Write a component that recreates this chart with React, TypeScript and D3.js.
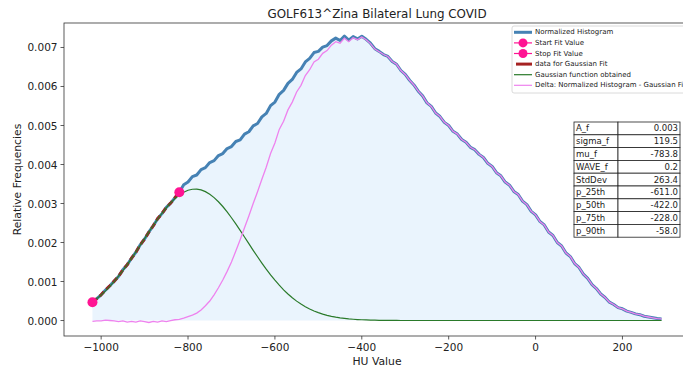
import React from "react";
import * as d3 from "d3";

// HU bins (10 HU wide)
const HU: number[] = d3.range(-1020, 291, 10);

// Normalized histogram (relative frequencies)
const HIST: number[] = [
  0.00047, 0.00056, 0.00066, 0.00078, 0.00089, 0.00101, 0.00113, 0.0013, 0.00143, 0.0016,
  0.00175, 0.00194, 0.00209, 0.00227, 0.00243, 0.00261, 0.00274, 0.0029, 0.00301, 0.00315,
  0.00329, 0.00348, 0.00355, 0.00369, 0.00373, 0.00387, 0.00392, 0.00405, 0.0041, 0.00423,
  0.00428, 0.00441, 0.00446, 0.00459, 0.00463, 0.00478, 0.00484, 0.00499, 0.00505, 0.00522,
  0.00531, 0.00551, 0.0056, 0.0058, 0.0059, 0.00608, 0.00618, 0.00636, 0.00645, 0.00663,
  0.00672, 0.00687, 0.0069, 0.00701, 0.00705, 0.00717, 0.00724, 0.00718, 0.00729, 0.00719,
  0.00728, 0.00722, 0.00729, 0.00721, 0.00711, 0.00697, 0.0069, 0.00682, 0.00677, 0.00664,
  0.00657, 0.00641, 0.00631, 0.00616, 0.00604, 0.00588, 0.00576, 0.00558, 0.00549, 0.00532,
  0.00523, 0.00508, 0.005, 0.00485, 0.00478, 0.00464, 0.00457, 0.00444, 0.00438, 0.00426,
  0.00418, 0.00403, 0.00395, 0.00379, 0.00371, 0.00355, 0.00347, 0.00331, 0.00323, 0.00306,
  0.00297, 0.0028, 0.00271, 0.00254, 0.00245, 0.00227, 0.00218, 0.002, 0.00191, 0.00173,
  0.00164, 0.00146, 0.00136, 0.00119, 0.00108, 0.00092, 0.00082, 0.00068, 0.00059, 0.00047,
  0.00041, 0.00033, 0.0003, 0.00024, 0.00021, 0.00017, 0.00015, 0.00011, 0.00009, 0.00007,
  0.00005, 0.00004,
];

// Gaussian function obtained
const GAUSS: number[] = [
  0.000478, 0.000562, 0.000656, 0.000761, 0.000875, 0.001001, 0.001136, 0.001281, 0.001434, 0.001594,
  0.00176, 0.00193, 0.0021, 0.002271, 0.002437, 0.002598, 0.00275, 0.002891, 0.003017, 0.003127,
  0.003219, 0.00329, 0.003339, 0.003365, 0.003368, 0.003348, 0.003304, 0.003238, 0.003151, 0.003045,
  0.002923, 0.002785, 0.002635, 0.002477, 0.002311, 0.002142, 0.00197, 0.0018, 0.001634, 0.001472,
  0.001317, 0.00117, 0.001033, 0.000905, 0.000787, 0.00068, 0.000583, 0.000497, 0.000421, 0.000353,
  0.000295, 0.000244, 0.000201, 0.000164, 0.000133, 0.000107, 0.000086, 0.000068, 0.000054, 0.000042,
  0.000033, 0.000025, 0.000019, 0.000015, 0.000011, 0.000008, 0.000006, 0.000005, 0.000003, 0.000003,
  0.000002, 0.000001, 0.000001, 0, 0, 0, 0, 0, 0, 0,
  0, 0, 0, 0, 0, 0, 0, 0, 0, 0,
  0, 0, 0, 0, 0, 0, 0, 0, 0, 0,
  0, 0, 0, 0, 0, 0, 0, 0, 0, 0,
  0, 0, 0, 0, 0, 0, 0, 0, 0, 0,
  0, 0, 0, 0, 0, 0, 0, 0, 0, 0,
  0, 0,
];

// Delta: Normalized Histogram - Gaussian Fit
const DELTA: number[] = [
  -0.00002, -0.00001, -0.00001, 0.00001, 0.0, -0.00001, -0.00003, -0.00001, -0.00004, -0.00002,
  -0.00004, -0.00001, -0.00003, -0.00005, -0.00002, -0.00004, -0.00001, -0.00003, 0.0, 0.00002,
  0.00003, 0.00006, 0.0001, 0.00014, 0.00019, 0.00027, 0.00038, 0.0005, 0.00066, 0.00084,
  0.00104, 0.00126, 0.0015, 0.00178, 0.00207, 0.00238, 0.00268, 0.003, 0.0033, 0.00362,
  0.00393, 0.00428, 0.00455, 0.0049, 0.00511, 0.0054, 0.0056, 0.00586, 0.00603, 0.00628,
  0.00643, 0.00663, 0.0067, 0.00685, 0.00692, 0.00706, 0.00715, 0.00711, 0.00724, 0.00715,
  0.00725, 0.0072, 0.00727, 0.0072, 0.0071, 0.00696, 0.00689, 0.00682, 0.00677, 0.00664,
  0.00657, 0.00641, 0.00631, 0.00616, 0.00604, 0.00588, 0.00576, 0.00558, 0.00549, 0.00532,
  0.00523, 0.00508, 0.005, 0.00485, 0.00478, 0.00464, 0.00457, 0.00444, 0.00438, 0.00426,
  0.00418, 0.00403, 0.00395, 0.00379, 0.00371, 0.00355, 0.00347, 0.00331, 0.00323, 0.00306,
  0.00297, 0.0028, 0.00271, 0.00254, 0.00245, 0.00227, 0.00218, 0.002, 0.00191, 0.00173,
  0.00164, 0.00146, 0.00136, 0.00119, 0.00108, 0.00092, 0.00082, 0.00068, 0.00059, 0.00047,
  0.00041, 0.00033, 0.0003, 0.00024, 0.00021, 0.00017, 0.00015, 0.00011, 0.00009, 0.00007,
  0.00005, 0.00004,
];

const START_HU = -1020;
const STOP_HU = -820;

const X_TICKS = [-1000, -800, -600, -400, -200, 0, 200];
const Y_TICKS = [0, 0.001, 0.002, 0.003, 0.004, 0.005, 0.006, 0.007];

const TABLE_LABELS = ["A_f", "sigma_f", "mu_f", "WAVE_f", "StdDev", "p_25th", "p_50th", "p_75th", "p_90th"];
const TABLE_VALUES = ["0.003", "119.5", "-783.8", "0.2", "263.4", "-611.0", "-422.0", "-228.0", "-58.0"];

const LEGEND_LABELS = [
  "Normalized Histogram",
  "Start Fit Value",
  "Stop Fit Value",
  "data for Gaussian Fit",
  "Gaussian function obtained",
  "Delta: Normalized Histogram - Gaussian Fit",
];

const TITLE = "GOLF613^Zina Bilateral Lung COVID";

const FONT = "DejaVu Sans, sans-serif";
const C_HIST = "#4682b4";
const C_PINK = "#ff1493";
const C_RED = "#a52222";
const C_GREEN = "#2a7a2a";
const C_VIOLET = "#ee82ee";
const C_FILL = "#eaf4fd";

export default function App() {
  const W = 683;
  const H = 367;
  const left = 64, right = 690, top = 23, bottom = 336;
  const x = d3.scaleLinear().domain([-1085.5, 355.5]).range([left, right]);
  const y = d3.scaleLinear().domain([-0.000397, 0.007628]).range([bottom, top]);

  const pts = HU.map((h, i) => ({ h, hist: HIST[i], g: GAUSS[i], d: DELTA[i] }));
  const line = (key: "hist" | "g" | "d") =>
    d3.line<any>().x((p) => x(p.h)).y((p) => y(p[key]));
  const area = d3.area<any>().x((p) => x(p.h)).y0(y(0)).y1((p) => y(p.hist));
  const fitPts = pts.filter((p) => p.h >= START_HU && p.h <= STOP_HU);
  const startP = pts.find((p) => p.h === START_HU)!;
  const stopP = pts.find((p) => p.h === STOP_HU)!;

  const fmtY = d3.format(".3f");
  const fmtX = (v: number) => (v < 0 ? "\u2212" + Math.abs(v) : String(v));

  const legX = 512, legY = 26, rowH = 10.6;
  const tabL = 574, tabR = 680, tabMid = 618, tabTop = 122, tabRow = 12.8;

  return (
    <svg width={W} height={H} style={{ position: "absolute", left: 0, top: 0, background: "#fff" }} fontFamily={FONT}>
      <rect x={0} y={0} width={W} height={H} fill="#fff" />
      <defs>
        <clipPath id="plotclip">
          <rect x={left} y={top} width={right - left} height={bottom - top} />
        </clipPath>
      </defs>
      <g clipPath="url(#plotclip)">
        <path d={area(pts) || ""} fill={C_FILL} />
        <path d={line("hist")(pts) || ""} fill="none" stroke={C_HIST} strokeWidth={3} strokeLinejoin="round" />
        <path d={line("hist")(fitPts) || ""} fill="none" stroke={C_RED} strokeWidth={3} strokeDasharray="6,3.5" />
        <path d={line("g")(pts) || ""} fill="none" stroke={C_GREEN} strokeWidth={1.2} />
        <path d={line("d")(pts) || ""} fill="none" stroke={C_VIOLET} strokeWidth={1.3} />
        <circle cx={x(startP.h)} cy={y(startP.hist)} r={5} fill={C_PINK} />
        <circle cx={x(stopP.h)} cy={y(stopP.hist)} r={5} fill={C_PINK} />
      </g>
      {/* spines */}
      <rect x={left} y={top} width={right - left} height={bottom - top} fill="none" stroke="#333" strokeWidth={0.8} />
      {/* x ticks */}
      {X_TICKS.map((t) => (
        <g key={"x" + t}>
          <line x1={x(t)} x2={x(t)} y1={bottom} y2={bottom + 3.5} stroke="#333" strokeWidth={0.8} />
          <text x={x(t)} y={bottom + 15} fontSize={10.5} textAnchor="middle" fill="#222">{fmtX(t)}</text>
        </g>
      ))}
      {/* y ticks */}
      {Y_TICKS.map((t) => (
        <g key={"y" + t}>
          <line x1={left - 3.5} x2={left} y1={y(t)} y2={y(t)} stroke="#333" strokeWidth={0.8} />
          <text x={left - 6.5} y={y(t)} fontSize={10.5} textAnchor="end" dominantBaseline="central" fill="#222">{fmtY(t)}</text>
        </g>
      ))}
      <text x={(left + right) / 2} y={365} fontSize={10.8} textAnchor="middle" fill="#222">HU Value</text>
      <text transform={`translate(17,${(top + bottom) / 2}) rotate(-90)`} fontSize={10.8} textAnchor="middle" dominantBaseline="central" fill="#222">Relative Frequencies</text>
      <text x={(left + right) / 2} y={18} fontSize={11.9} textAnchor="middle" fill="#222">{TITLE}</text>

      {/* legend */}
      <rect x={legX} y={legY} width={200} height={67} rx={2} fill="#fff" fillOpacity={0.85} stroke="#d0d0d0" strokeWidth={0.8} />
      {LEGEND_LABELS.map((lab, i) => {
        const cy = legY + 6.3 + i * rowH;
        const hx1 = legX + 2, hx2 = legX + 20, hm = (hx1 + hx2) / 2;
        return (
          <g key={lab}>
            {i === 0 && <line x1={hx1} x2={hx2} y1={cy} y2={cy} stroke={C_HIST} strokeWidth={3} />}
            {(i === 1 || i === 2) && (
              <g>
                <line x1={hx1} x2={hx2} y1={cy} y2={cy} stroke={C_PINK} strokeWidth={1.2} />
                <circle cx={hm} cy={cy} r={4.5} fill={C_PINK} />
              </g>
            )}
            {i === 3 && <line x1={hx1 + 2} x2={hx2} y1={cy} y2={cy} stroke={C_RED} strokeWidth={3} />}
            {i === 4 && <line x1={hx1} x2={hx2} y1={cy} y2={cy} stroke={C_GREEN} strokeWidth={1.2} />}
            {i === 5 && <line x1={hx1} x2={hx2} y1={cy} y2={cy} stroke={C_VIOLET} strokeWidth={1.2} />}
            <text x={legX + 23} y={cy} fontSize={7} dominantBaseline="central" fill="#222">{lab}</text>
          </g>
        );
      })}

      {/* table */}
      {TABLE_LABELS.map((lab, i) => {
        const ty = tabTop + i * tabRow;
        return (
          <g key={lab}>
            <rect x={tabL} y={ty} width={tabMid - tabL} height={tabRow} fill="#fff" stroke="#222" strokeWidth={0.8} />
            <rect x={tabMid} y={ty} width={tabR - tabMid} height={tabRow} fill="#fff" stroke="#222" strokeWidth={0.8} />
            <text x={tabL + 2} y={ty + tabRow / 2} fontSize={8.5} dominantBaseline="central" fill="#222">{lab}</text>
            <text x={tabR - 2} y={ty + tabRow / 2} fontSize={8.5} textAnchor="end" dominantBaseline="central" fill="#222">{TABLE_VALUES[i]}</text>
          </g>
        );
      })}
    </svg>
  );
}
